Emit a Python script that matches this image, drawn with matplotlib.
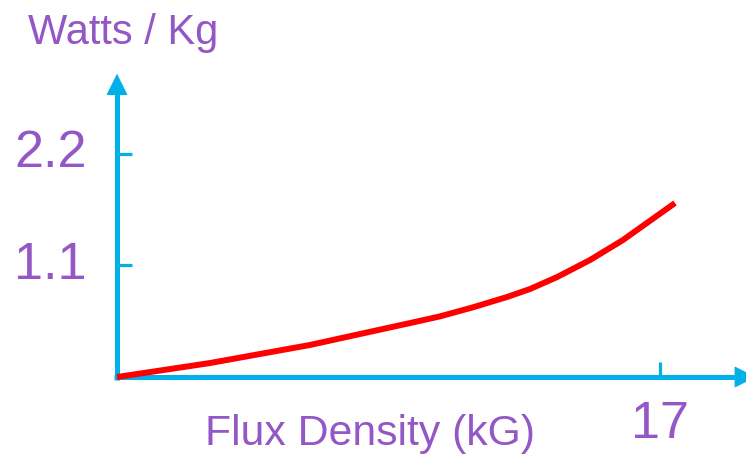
import numpy as np
import matplotlib
matplotlib.use("Agg")
import matplotlib.pyplot as plt

# curve (flux density kG, watts/kg)
flux = [0.0, 2.91, 6.04, 9.17, 10.11, 11.15, 12.21, 12.93, 13.78, 14.81, 15.84, 16.59, 17.47]
watts = [0.0, 0.138, 0.316, 0.532, 0.598, 0.688, 0.789, 0.868, 0.986, 1.154, 1.351, 1.519, 1.716]

yticks = [1.1, 2.2]
ytick_labels = ["1.1", "2.2"]
xticks = [17]
xtick_labels = ["17"]

xlabel = "Flux Density (kG)"
ylabel = "Watts / Kg"

purple = "#9457C6"
cyan = "#00B0E6"
red = "#FF0000"

plt.rcParams['font.family'] = ['Liberation Sans', 'DejaVu Sans']

fig = plt.figure(figsize=(7.46, 4.54), dpi=100)
ax = fig.add_axes([0, 0, 1, 1])
ax.set_xlim(-3.663, 19.693)
ax.set_ylim(-0.759, 3.718)
ax.axis("off")

# axis lines, then arrow heads on top
ax.plot([0, 0], [-0.03, 2.85], color=cyan, lw=3.6, solid_capstyle="butt")
ax.plot([-0.1, 19.8], [0, 0], color=cyan, lw=3.6, solid_capstyle="butt")
head = dict(arrowstyle="-|>,head_length=1.0,head_width=0.5", color=cyan,
            lw=0.8, shrinkA=0, shrinkB=0, mutation_scale=14)
ax.annotate("", xy=(0, 2.99), xytext=(0, 2.7), arrowprops=head,
            annotation_clip=False)
ax.annotate("", xy=(20.0, 0), xytext=(19.0, 0), arrowprops=head,
            annotation_clip=False)

# tick marks
ax.hlines(yticks, 0, 0.47, color=cyan, lw=2.3)
ax.vlines(xticks, 0, 0.148, color=cyan, lw=2.3)

for v, lab in zip(yticks, ytick_labels):
    ax.text(-0.94, v, lab, ha="right", va="center", fontsize=37.5, color=purple)
for v, lab in zip(xticks, xtick_labels):
    ax.text(v, -0.602, lab, ha="center", va="baseline", fontsize=37.5, color=purple)

ax.plot(flux, watts, color=red, lw=4.3, solid_capstyle="butt",
        solid_joinstyle="round")

fig.text(205 / 746, 1 - 445 / 454, xlabel, ha="left", va="baseline",
         fontsize=30.8, color=purple)
fig.text(28 / 746, 1 - 44 / 454, ylabel, ha="left", va="baseline",
         fontsize=30, color=purple)

fig.savefig("out.png", dpi=100)
